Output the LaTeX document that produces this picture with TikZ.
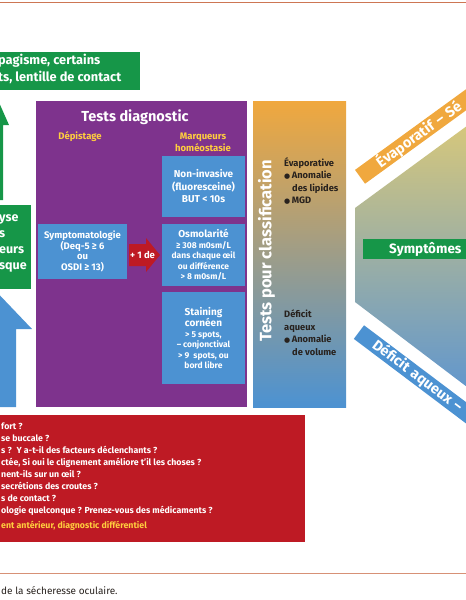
\documentclass[tikz,border=0pt]{standalone}
\usepackage{fontspec}
\setmainfont{Fira Sans}
\newfontfamily\dotfont{DejaVu Sans}
\definecolor{diagPurple}{RGB}{126,51,141}
\definecolor{testBlue}{RGB}{76,146,210}
\definecolor{riskGreen}{RGB}{22,150,72}
\definecolor{askRed}{RGB}{190,26,36}
\definecolor{tagYellow}{RGB}{255,206,62}
\definecolor{evapOrange}{RGB}{240,168,62}
\definecolor{colTan}{RGB}{206,166,126}
\definecolor{hexTan}{RGB}{216,200,122}
\definecolor{hexGrey}{RGB}{176,182,166}
\definecolor{hexBlue}{RGB}{96,150,206}
\definecolor{ruleOrange}{RGB}{205,118,84}
\definecolor{inkDark}{RGB}{40,34,30}
\newcommand{\Puce}{{\dotfont\fontsize{7}{7}\selectfont ●}\,}
\newcommand{\Sz}[2]{\fontsize{#1}{#2}\selectfont}

\begin{document}
\begin{tikzpicture}[x=1pt,y=-1pt,
  box/.style={inner sep=0pt,align=center,text=white,font=\bfseries},
  bluebox/.style={box,fill=testBlue},
  band/.style={inner ysep=0pt,minimum height=17pt,text width=170pt,align=left,text=white,font=\bfseries\Sz{14.5}{15}}]
\useasboundingbox (0,0) rectangle (466,600);
\clip (0,0) rectangle (466,600);
\draw[ruleOrange,line width=1.5pt] (0,2.5) -- (466,2.5);
\draw[ruleOrange!80,line width=1pt] (0,573) -- (466,573);
\node[anchor=west,inner sep=0pt,text=inkDark,font=\Sz{10}{11}] (caption) at (1,591) {de la sécheresse oculaire.};

\fill[riskGreen] (-10,82) -- (9,125) -- (3,125) -- (3,200) -- (0,200) -- (-10,200) -- cycle;
\node[box,fill=riskGreen,anchor=north west,minimum width=140,minimum height=38] (factors) at (0,52) {};
\node[anchor=north west,inner sep=0pt,text=white,align=left,font=\bfseries\Sz{12.8}{17}] (factorstxt) at (-2,54) {pagisme, certains\\ts, lentille de contact};
\node[box,fill=riskGreen,anchor=north west,minimum width=31,minimum height=84] (riskbox) at (0,205) {};
\node[anchor=north west,inner sep=0pt,text=white,align=left,font=\bfseries\Sz{12.5}{16}] (risktxt) at (-1,214) {yse\\s\\eurs\\sque};
\fill[testBlue] (-10,285) -- (32,329) -- (16,329) -- (16,407) -- (-10,407) -- cycle;

\node[box,fill=diagPurple,anchor=north west,minimum width=211,minimum height=306] (diag) at (36,101) {};
\node[box,font=\bfseries\Sz{14.5}{15}] (diagtitle) at (135,117) {Tests diagnostic};
\node[box,text=tagYellow,font=\bfseries\Sz{9.5}{11}] (screen) at (80,137) {Dépistage};
\node[box,text=tagYellow,font=\bfseries\Sz{9.5}{11.5}] (markers) at (203,142.5) {Marqueurs\\homéostasie};
\node[bluebox,minimum width=83,minimum height=61,font=\bfseries\Sz{10}{12.5}] (noninv) at (203.5,186.5) {Non-invasive\\(fluoresceine)\\BUT < 10s};
\node[bluebox,minimum width=83,minimum height=62,font=\bfseries\Sz{8.5}{10.5}] (osmo) at (203.5,255) {\Sz{10}{11}Osmolarité\\≥ 308 m0sm/L\\dans chaque œil\\ou différence\\> 8 m0sm/L};
\node[bluebox,minimum width=83,minimum height=92,font=\bfseries\Sz{8.5}{10.5}] (staining) at (203.5,338) {\Sz{10}{12.5}Staining\\\Sz{10}{12.5}cornéen\\> 5 spots,\\– conjonctival\\> 9~ spots, ou\\bord libre};
\node[bluebox,minimum width=89,minimum height=55,font=\bfseries\Sz{9.5}{10.5}] (sympto) at (82.5,251.5) {Symptomatologie\\(Deq-5 ≥ 6\\ou\\OSDI ≥ 13)};
\fill[askRed] (129,244) -- (146,244) -- (146,238) -- (160,255) -- (146,272) -- (146,266) -- (129,266) -- cycle;
\node[box,font=\bfseries\Sz{9.5}{10}] (plusone) at (142.5,255) {+ 1 de};

\node[shade,top color=evapOrange,middle color=colTan,bottom color=testBlue,anchor=north west,minimum width=93,minimum height=306,inner sep=0pt] (classcol) at (253,101) {};
\node[box,rotate=90,font=\bfseries\Sz{16.5}{17}] (classlbl) at (266.5,251) {Tests pour classification};
\node[anchor=north west,inner sep=0pt,align=left,text=inkDark,font=\bfseries\Sz{9.3}{12.5}] (evaptxt) at (284,157) {Évaporative\\\Puce Anomalie\\\hspace*{8pt}des lipides\\\Puce MGD};
\node[anchor=north west,inner sep=0pt,align=left,text=inkDark,font=\bfseries\Sz{9.3}{12.5}] (deficittxt) at (284,310) {Déficit\\aqueux\\\Puce Anomalie\\\hspace*{8pt}de volume};

\shade[top color=hexTan,middle color=hexGrey,bottom color=hexBlue] (475,120) -- (355,208) -- (355,302) -- (475,393) -- cycle;
\node[band,fill=evapOrange,rotate=36,anchor=south west,inner xsep=22pt] (evapband) at (365,184) {Évaporatif – Sé};
\node[band,fill=testBlue,rotate=-37,anchor=north west,inner xsep=19pt] (deficitband) at (364,325) {Déficit aqueux –};
\node[box,fill=riskGreen,anchor=west,minimum height=20,inner xsep=26pt,font=\bfseries\Sz{13.5}{14}] (symptoms) at (363,249) {Symptômes\hspace{30pt}};

\node[fill=askRed,anchor=north west,minimum width=305,minimum height=127,inner sep=0pt] (asks) at (0,415) {};
\node[anchor=north west,inner sep=0pt,align=left,text=white,font=\bfseries\Sz{8.8}{12}] (askstxt) at (1,422.5) {fort ?\\se buccale ?\\s ?~ Y a-t-il des facteurs déclenchants ?\\ctée, Si oui le clignement améliore t'il les choses ?\\nent-ils sur un œil ?\\secrétions des croutes ?\\s de contact ?\\ologie quelconque ? Prenez-vous des médicaments ?\\[3pt]\textcolor{tagYellow}{ent antérieur, diagnostic différentiel}};
\end{tikzpicture}
\end{document}
